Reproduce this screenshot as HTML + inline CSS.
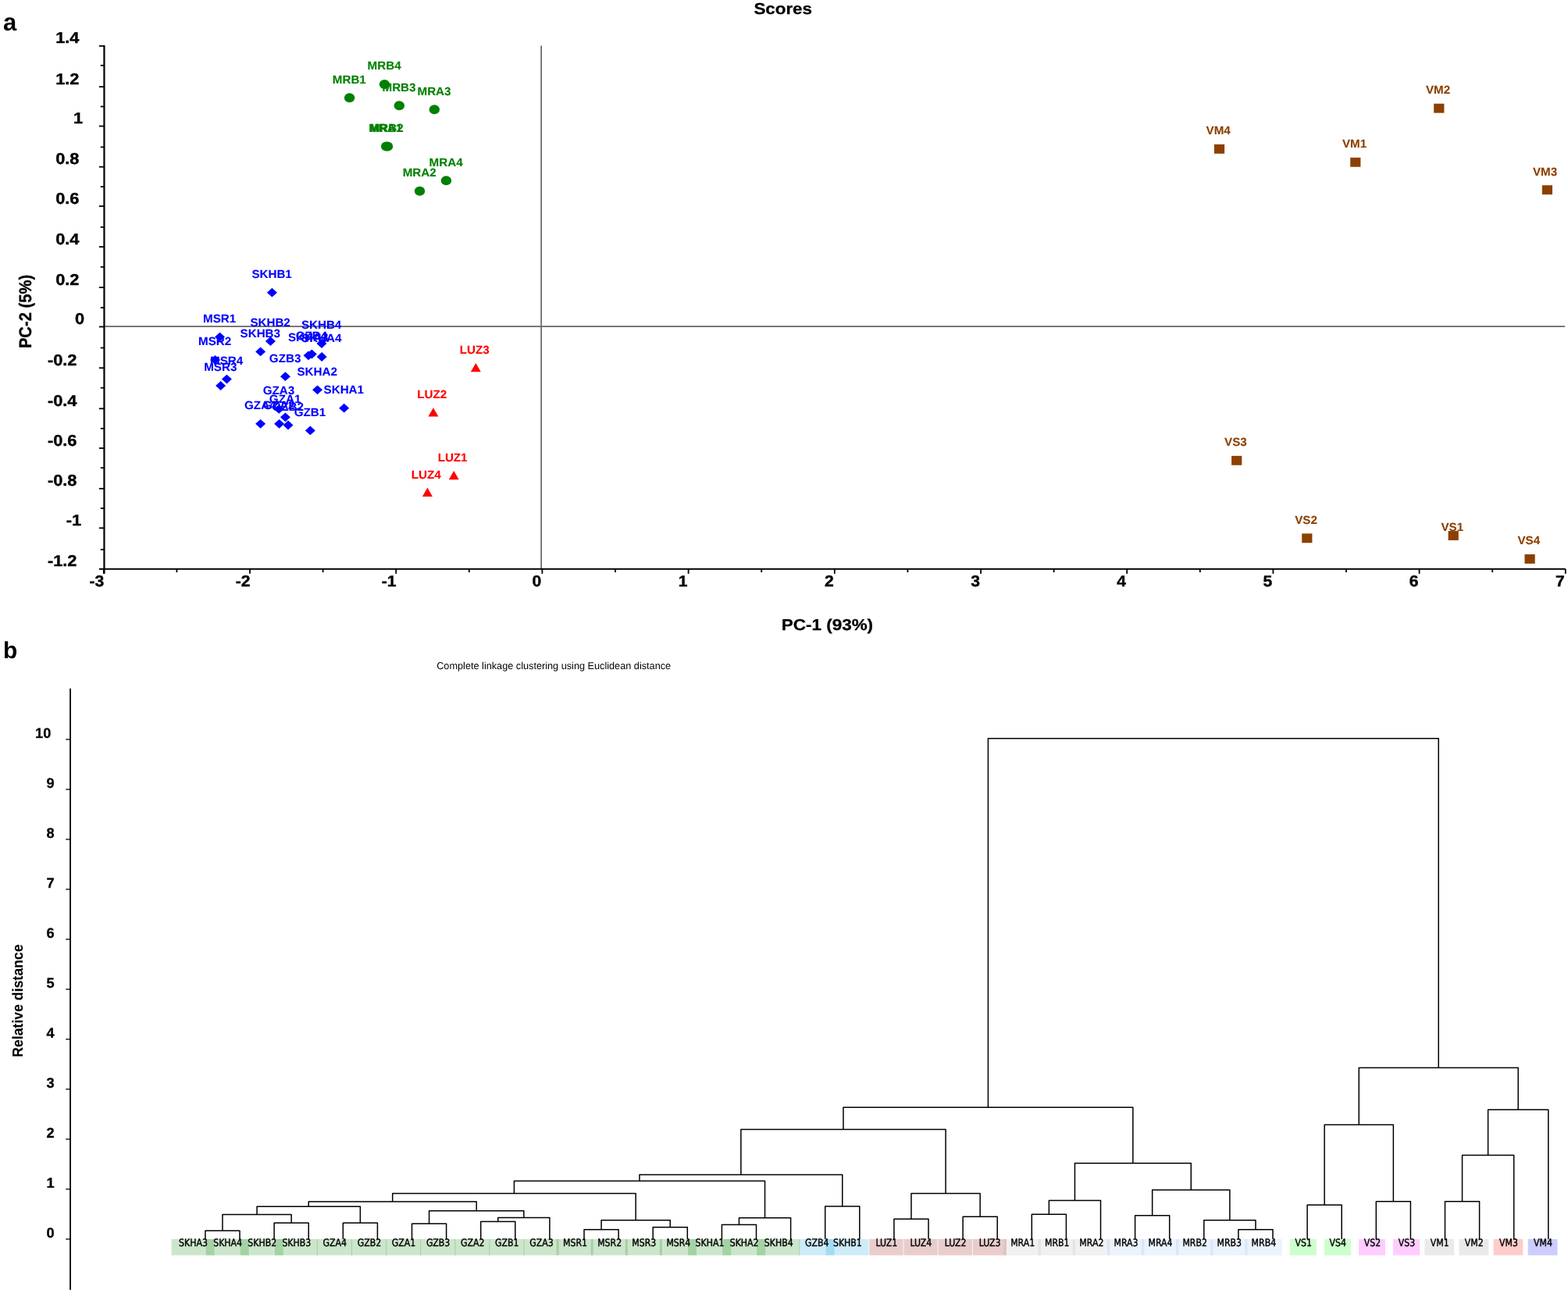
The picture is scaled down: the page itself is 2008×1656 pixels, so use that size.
<!DOCTYPE html>
<html lang="en">
<head>
<meta charset="utf-8">
<title>Scores and complete linkage clustering</title>
<style>
html,body{margin:0;padding:0;background:#fff;}
body{width:2008px;height:1656px;overflow:hidden;}
svg{display:block;font-family:"Liberation Sans", Arial, Helvetica, sans-serif;text-rendering:geometricPrecision;}
</style>
</head>
<body>
<svg width="2008" height="1656" viewBox="0 0 2008 1656">
<rect width="2008" height="1656" fill="#fff"/>
<g id="panel-a">
<line x1="693.15" y1="58.40" x2="693.15" y2="728.80" stroke="#666666" stroke-width="1.7" stroke-linecap="butt"/>
<line x1="133.45" y1="418.05" x2="2004.20" y2="418.05" stroke="#666666" stroke-width="1.7" stroke-linecap="butt"/>
<line x1="133.45" y1="57.95" x2="133.45" y2="734.80" stroke="#000" stroke-width="2.2" stroke-linecap="butt"/>
<line x1="126.85" y1="728.80" x2="2004.80" y2="728.80" stroke="#000" stroke-width="1.9" stroke-linecap="butt"/>
<line x1="126.85" y1="58.85" x2="133.45" y2="58.85" stroke="#000" stroke-width="1.8" stroke-linecap="butt"/>
<line x1="126.85" y1="111.15" x2="133.45" y2="111.15" stroke="#000" stroke-width="1.8" stroke-linecap="butt"/>
<line x1="126.85" y1="161.55" x2="133.45" y2="161.55" stroke="#000" stroke-width="1.8" stroke-linecap="butt"/>
<line x1="126.85" y1="213.70" x2="133.45" y2="213.70" stroke="#000" stroke-width="1.8" stroke-linecap="butt"/>
<line x1="126.85" y1="264.10" x2="133.45" y2="264.10" stroke="#000" stroke-width="1.8" stroke-linecap="butt"/>
<line x1="126.85" y1="316.15" x2="133.45" y2="316.15" stroke="#000" stroke-width="1.8" stroke-linecap="butt"/>
<line x1="126.85" y1="368.15" x2="133.45" y2="368.15" stroke="#000" stroke-width="1.8" stroke-linecap="butt"/>
<line x1="126.85" y1="418.50" x2="133.45" y2="418.50" stroke="#000" stroke-width="1.8" stroke-linecap="butt"/>
<line x1="126.85" y1="471.25" x2="133.45" y2="471.25" stroke="#000" stroke-width="1.8" stroke-linecap="butt"/>
<line x1="126.85" y1="523.35" x2="133.45" y2="523.35" stroke="#000" stroke-width="1.8" stroke-linecap="butt"/>
<line x1="126.85" y1="574.00" x2="133.45" y2="574.00" stroke="#000" stroke-width="1.8" stroke-linecap="butt"/>
<line x1="126.85" y1="625.80" x2="133.45" y2="625.80" stroke="#000" stroke-width="1.8" stroke-linecap="butt"/>
<line x1="126.85" y1="676.30" x2="133.45" y2="676.30" stroke="#000" stroke-width="1.8" stroke-linecap="butt"/>
<line x1="128.75" y1="83.80" x2="133.45" y2="83.80" stroke="#000" stroke-width="1.8" stroke-linecap="butt"/>
<line x1="128.75" y1="136.50" x2="133.45" y2="136.50" stroke="#000" stroke-width="1.8" stroke-linecap="butt"/>
<line x1="128.75" y1="188.40" x2="133.45" y2="188.40" stroke="#000" stroke-width="1.8" stroke-linecap="butt"/>
<line x1="128.75" y1="239.20" x2="133.45" y2="239.20" stroke="#000" stroke-width="1.8" stroke-linecap="butt"/>
<line x1="128.75" y1="290.90" x2="133.45" y2="290.90" stroke="#000" stroke-width="1.8" stroke-linecap="butt"/>
<line x1="128.75" y1="341.90" x2="133.45" y2="341.90" stroke="#000" stroke-width="1.8" stroke-linecap="butt"/>
<line x1="128.75" y1="394.10" x2="133.45" y2="394.10" stroke="#000" stroke-width="1.8" stroke-linecap="butt"/>
<line x1="128.75" y1="445.50" x2="133.45" y2="445.50" stroke="#000" stroke-width="1.8" stroke-linecap="butt"/>
<line x1="128.75" y1="496.70" x2="133.45" y2="496.70" stroke="#000" stroke-width="1.8" stroke-linecap="butt"/>
<line x1="128.75" y1="548.80" x2="133.45" y2="548.80" stroke="#000" stroke-width="1.8" stroke-linecap="butt"/>
<line x1="128.75" y1="599.20" x2="133.45" y2="599.20" stroke="#000" stroke-width="1.8" stroke-linecap="butt"/>
<line x1="128.75" y1="651.00" x2="133.45" y2="651.00" stroke="#000" stroke-width="1.8" stroke-linecap="butt"/>
<line x1="128.75" y1="703.80" x2="133.45" y2="703.80" stroke="#000" stroke-width="1.8" stroke-linecap="butt"/>
<line x1="132.80" y1="728.80" x2="132.80" y2="734.80" stroke="#000" stroke-width="1.8" stroke-linecap="butt"/>
<line x1="226.40" y1="728.80" x2="226.40" y2="733.00" stroke="#000" stroke-width="1.8" stroke-linecap="butt"/>
<line x1="320.00" y1="728.80" x2="320.00" y2="734.80" stroke="#000" stroke-width="1.8" stroke-linecap="butt"/>
<line x1="413.60" y1="728.80" x2="413.60" y2="733.00" stroke="#000" stroke-width="1.8" stroke-linecap="butt"/>
<line x1="507.20" y1="728.80" x2="507.20" y2="734.80" stroke="#000" stroke-width="1.8" stroke-linecap="butt"/>
<line x1="600.80" y1="728.80" x2="600.80" y2="733.00" stroke="#000" stroke-width="1.8" stroke-linecap="butt"/>
<line x1="694.40" y1="728.80" x2="694.40" y2="734.80" stroke="#000" stroke-width="1.8" stroke-linecap="butt"/>
<line x1="788.00" y1="728.80" x2="788.00" y2="733.00" stroke="#000" stroke-width="1.8" stroke-linecap="butt"/>
<line x1="881.60" y1="728.80" x2="881.60" y2="734.80" stroke="#000" stroke-width="1.8" stroke-linecap="butt"/>
<line x1="975.20" y1="728.80" x2="975.20" y2="733.00" stroke="#000" stroke-width="1.8" stroke-linecap="butt"/>
<line x1="1068.80" y1="728.80" x2="1068.80" y2="734.80" stroke="#000" stroke-width="1.8" stroke-linecap="butt"/>
<line x1="1162.40" y1="728.80" x2="1162.40" y2="733.00" stroke="#000" stroke-width="1.8" stroke-linecap="butt"/>
<line x1="1256.00" y1="728.80" x2="1256.00" y2="734.80" stroke="#000" stroke-width="1.8" stroke-linecap="butt"/>
<line x1="1349.60" y1="728.80" x2="1349.60" y2="733.00" stroke="#000" stroke-width="1.8" stroke-linecap="butt"/>
<line x1="1443.20" y1="728.80" x2="1443.20" y2="734.80" stroke="#000" stroke-width="1.8" stroke-linecap="butt"/>
<line x1="1536.80" y1="728.80" x2="1536.80" y2="733.00" stroke="#000" stroke-width="1.8" stroke-linecap="butt"/>
<line x1="1630.40" y1="728.80" x2="1630.40" y2="734.80" stroke="#000" stroke-width="1.8" stroke-linecap="butt"/>
<line x1="1724.00" y1="728.80" x2="1724.00" y2="733.00" stroke="#000" stroke-width="1.8" stroke-linecap="butt"/>
<line x1="1817.60" y1="728.80" x2="1817.60" y2="734.80" stroke="#000" stroke-width="1.8" stroke-linecap="butt"/>
<line x1="1911.20" y1="728.80" x2="1911.20" y2="733.00" stroke="#000" stroke-width="1.8" stroke-linecap="butt"/>
<line x1="2004.80" y1="728.80" x2="2004.80" y2="734.80" stroke="#000" stroke-width="1.8" stroke-linecap="butt"/>
<text transform="translate(101.50,55.35) scale(1.0850,1)" font-size="20.1" font-weight="bold" text-anchor="end" fill="#000" stroke="#000" stroke-width="0.4" stroke-linejoin="round">1.4</text>
<text transform="translate(101.50,107.65) scale(1.0850,1)" font-size="20.1" font-weight="bold" text-anchor="end" fill="#000" stroke="#000" stroke-width="0.4" stroke-linejoin="round">1.2</text>
<text transform="translate(106.20,158.05) scale(1.0850,1)" font-size="20.1" font-weight="bold" text-anchor="end" fill="#000" stroke="#000" stroke-width="0.4" stroke-linejoin="round">1</text>
<text transform="translate(101.50,210.20) scale(1.0850,1)" font-size="20.1" font-weight="bold" text-anchor="end" fill="#000" stroke="#000" stroke-width="0.4" stroke-linejoin="round">0.8</text>
<text transform="translate(101.50,260.60) scale(1.0850,1)" font-size="20.1" font-weight="bold" text-anchor="end" fill="#000" stroke="#000" stroke-width="0.4" stroke-linejoin="round">0.6</text>
<text transform="translate(101.50,312.65) scale(1.0850,1)" font-size="20.1" font-weight="bold" text-anchor="end" fill="#000" stroke="#000" stroke-width="0.4" stroke-linejoin="round">0.4</text>
<text transform="translate(101.50,364.65) scale(1.0850,1)" font-size="20.1" font-weight="bold" text-anchor="end" fill="#000" stroke="#000" stroke-width="0.4" stroke-linejoin="round">0.2</text>
<text transform="translate(108.20,415.00) scale(1.0850,1)" font-size="20.1" font-weight="bold" text-anchor="end" fill="#000" stroke="#000" stroke-width="0.4" stroke-linejoin="round">0</text>
<text transform="translate(98.50,467.75) scale(1.0850,1)" font-size="20.1" font-weight="bold" text-anchor="end" fill="#000" stroke="#000" stroke-width="0.4" stroke-linejoin="round">-0.2</text>
<text transform="translate(98.50,519.85) scale(1.0850,1)" font-size="20.1" font-weight="bold" text-anchor="end" fill="#000" stroke="#000" stroke-width="0.4" stroke-linejoin="round">-0.4</text>
<text transform="translate(98.50,570.50) scale(1.0850,1)" font-size="20.1" font-weight="bold" text-anchor="end" fill="#000" stroke="#000" stroke-width="0.4" stroke-linejoin="round">-0.6</text>
<text transform="translate(98.50,622.30) scale(1.0850,1)" font-size="20.1" font-weight="bold" text-anchor="end" fill="#000" stroke="#000" stroke-width="0.4" stroke-linejoin="round">-0.8</text>
<text transform="translate(104.20,672.80) scale(1.0850,1)" font-size="20.1" font-weight="bold" text-anchor="end" fill="#000" stroke="#000" stroke-width="0.4" stroke-linejoin="round">-1</text>
<text transform="translate(98.50,724.90) scale(1.0850,1)" font-size="20.1" font-weight="bold" text-anchor="end" fill="#000" stroke="#000" stroke-width="0.4" stroke-linejoin="round">-1.2</text>
<text transform="translate(133.20,750.80) scale(1.0500,1)" font-size="20.1" font-weight="bold" text-anchor="end" fill="#000" stroke="#000" stroke-width="0.4" stroke-linejoin="round">-3</text>
<text transform="translate(320.40,750.80) scale(1.0500,1)" font-size="20.1" font-weight="bold" text-anchor="end" fill="#000" stroke="#000" stroke-width="0.4" stroke-linejoin="round">-2</text>
<text transform="translate(507.60,750.80) scale(1.0500,1)" font-size="20.1" font-weight="bold" text-anchor="end" fill="#000" stroke="#000" stroke-width="0.4" stroke-linejoin="round">-1</text>
<text transform="translate(693.30,750.80) scale(1.0500,1)" font-size="20.1" font-weight="bold" text-anchor="end" fill="#000" stroke="#000" stroke-width="0.4" stroke-linejoin="round">0</text>
<text transform="translate(880.50,750.80) scale(1.0500,1)" font-size="20.1" font-weight="bold" text-anchor="end" fill="#000" stroke="#000" stroke-width="0.4" stroke-linejoin="round">1</text>
<text transform="translate(1067.70,750.80) scale(1.0500,1)" font-size="20.1" font-weight="bold" text-anchor="end" fill="#000" stroke="#000" stroke-width="0.4" stroke-linejoin="round">2</text>
<text transform="translate(1254.90,750.80) scale(1.0500,1)" font-size="20.1" font-weight="bold" text-anchor="end" fill="#000" stroke="#000" stroke-width="0.4" stroke-linejoin="round">3</text>
<text transform="translate(1442.10,750.80) scale(1.0500,1)" font-size="20.1" font-weight="bold" text-anchor="end" fill="#000" stroke="#000" stroke-width="0.4" stroke-linejoin="round">4</text>
<text transform="translate(1629.30,750.80) scale(1.0500,1)" font-size="20.1" font-weight="bold" text-anchor="end" fill="#000" stroke="#000" stroke-width="0.4" stroke-linejoin="round">5</text>
<text transform="translate(1816.50,750.80) scale(1.0500,1)" font-size="20.1" font-weight="bold" text-anchor="end" fill="#000" stroke="#000" stroke-width="0.4" stroke-linejoin="round">6</text>
<text transform="translate(2003.70,750.80) scale(1.0500,1)" font-size="20.1" font-weight="bold" text-anchor="end" fill="#000" stroke="#000" stroke-width="0.4" stroke-linejoin="round">7</text>
<text transform="translate(1002.70,18.40) scale(1.1030,1)" font-size="20.3" font-weight="bold" text-anchor="middle" fill="#000" stroke="#000" stroke-width="0.3" stroke-linejoin="round">Scores</text>
<text transform="translate(1059.40,806.90) scale(1.1130,1)" font-size="20.2" font-weight="bold" text-anchor="middle" fill="#000" stroke="#000" stroke-width="0.3" stroke-linejoin="round">PC-1 (93%)</text>
<text transform="translate(40.30,399.00) scale(1.0980,1) rotate(-90)" font-size="20.2" font-weight="bold" text-anchor="middle" fill="#000" stroke="#000" stroke-width="0.3" stroke-linejoin="round">PC-2 (5%)</text>
<text transform="translate(3.90,39.00)" font-size="31" font-weight="bold" text-anchor="start" fill="#000">a</text>
<ellipse cx="447.60" cy="125.30" rx="6.7" ry="6.0" fill="#008000"/>
<text transform="translate(447.30,106.60) scale(1.0250,1)" font-size="14.8" font-weight="bold" text-anchor="middle" fill="#008000" stroke="#008000" stroke-width="0.1" stroke-linejoin="round">MRB1</text>
<ellipse cx="492.40" cy="108.10" rx="6.7" ry="6.0" fill="#008000"/>
<text transform="translate(492.10,89.40) scale(1.0250,1)" font-size="14.8" font-weight="bold" text-anchor="middle" fill="#008000" stroke="#008000" stroke-width="0.1" stroke-linejoin="round">MRB4</text>
<ellipse cx="511.30" cy="135.20" rx="6.7" ry="6.0" fill="#008000"/>
<text transform="translate(511.00,116.50) scale(1.0250,1)" font-size="14.8" font-weight="bold" text-anchor="middle" fill="#008000" stroke="#008000" stroke-width="0.1" stroke-linejoin="round">MRB3</text>
<ellipse cx="556.30" cy="140.30" rx="6.7" ry="6.0" fill="#008000"/>
<text transform="translate(556.00,121.60) scale(1.0250,1)" font-size="14.8" font-weight="bold" text-anchor="middle" fill="#008000" stroke="#008000" stroke-width="0.1" stroke-linejoin="round">MRA3</text>
<ellipse cx="494.60" cy="187.60" rx="6.7" ry="6.0" fill="#008000"/>
<text transform="translate(493.70,168.80) scale(1.0250,1)" font-size="14.8" font-weight="bold" text-anchor="middle" fill="#008000" stroke="#008000" stroke-width="0.1" stroke-linejoin="round">MRA1</text>
<ellipse cx="496.50" cy="187.60" rx="6.7" ry="6.0" fill="#008000"/>
<text transform="translate(495.20,168.80) scale(1.0250,1)" font-size="14.8" font-weight="bold" text-anchor="middle" fill="#008000" stroke="#008000" stroke-width="0.1" stroke-linejoin="round">MRB2</text>
<ellipse cx="571.40" cy="231.30" rx="6.7" ry="6.0" fill="#008000"/>
<text transform="translate(571.10,212.60) scale(1.0250,1)" font-size="14.8" font-weight="bold" text-anchor="middle" fill="#008000" stroke="#008000" stroke-width="0.1" stroke-linejoin="round">MRA4</text>
<ellipse cx="537.50" cy="244.70" rx="6.7" ry="6.0" fill="#008000"/>
<text transform="translate(537.20,226.00) scale(1.0250,1)" font-size="14.8" font-weight="bold" text-anchor="middle" fill="#008000" stroke="#008000" stroke-width="0.1" stroke-linejoin="round">MRA2</text>
<polygon points="341.90,374.70 348.40,368.80 354.90,374.70 348.40,380.60" fill="#0000ff"/>
<text transform="translate(348.10,356.10) scale(1.0250,1)" font-size="14.8" font-weight="bold" text-anchor="middle" fill="#0000ff" stroke="#0000ff" stroke-width="0.1" stroke-linejoin="round">SKHB1</text>
<polygon points="275.00,431.60 281.50,425.70 288.00,431.60 281.50,437.50" fill="#0000ff"/>
<text transform="translate(281.20,413.00) scale(1.0250,1)" font-size="14.8" font-weight="bold" text-anchor="middle" fill="#0000ff" stroke="#0000ff" stroke-width="0.1" stroke-linejoin="round">MSR1</text>
<polygon points="339.90,437.00 346.40,431.10 352.90,437.00 346.40,442.90" fill="#0000ff"/>
<text transform="translate(346.10,418.40) scale(1.0250,1)" font-size="14.8" font-weight="bold" text-anchor="middle" fill="#0000ff" stroke="#0000ff" stroke-width="0.1" stroke-linejoin="round">SKHB2</text>
<polygon points="327.10,450.40 333.60,444.50 340.10,450.40 333.60,456.30" fill="#0000ff"/>
<text transform="translate(333.30,431.80) scale(1.0250,1)" font-size="14.8" font-weight="bold" text-anchor="middle" fill="#0000ff" stroke="#0000ff" stroke-width="0.1" stroke-linejoin="round">SKHB3</text>
<polygon points="269.00,460.90 275.50,455.00 282.00,460.90 275.50,466.80" fill="#0000ff"/>
<text transform="translate(275.20,442.30) scale(1.0250,1)" font-size="14.8" font-weight="bold" text-anchor="middle" fill="#0000ff" stroke="#0000ff" stroke-width="0.1" stroke-linejoin="round">MSR2</text>
<polygon points="405.40,440.00 411.90,434.10 418.40,440.00 411.90,445.90" fill="#0000ff"/>
<text transform="translate(411.60,421.40) scale(1.0250,1)" font-size="14.8" font-weight="bold" text-anchor="middle" fill="#0000ff" stroke="#0000ff" stroke-width="0.1" stroke-linejoin="round">SKHB4</text>
<polygon points="405.60,457.00 412.10,451.10 418.60,457.00 412.10,462.90" fill="#0000ff"/>
<text transform="translate(411.80,438.40) scale(1.0250,1)" font-size="14.8" font-weight="bold" text-anchor="middle" fill="#0000ff" stroke="#0000ff" stroke-width="0.1" stroke-linejoin="round">SKHA4</text>
<polygon points="392.80,453.50 399.30,447.60 405.80,453.50 399.30,459.40" fill="#0000ff"/>
<text transform="translate(399.00,434.90) scale(1.0250,1)" font-size="14.8" font-weight="bold" text-anchor="middle" fill="#0000ff" stroke="#0000ff" stroke-width="0.1" stroke-linejoin="round">GZB4</text>
<polygon points="388.50,455.30 395.00,449.40 401.50,455.30 395.00,461.20" fill="#0000ff"/>
<text transform="translate(394.70,436.70) scale(1.0250,1)" font-size="14.8" font-weight="bold" text-anchor="middle" fill="#0000ff" stroke="#0000ff" stroke-width="0.1" stroke-linejoin="round">SKHA3</text>
<polygon points="358.90,482.20 365.40,476.30 371.90,482.20 365.40,488.10" fill="#0000ff"/>
<text transform="translate(365.10,463.60) scale(1.0250,1)" font-size="14.8" font-weight="bold" text-anchor="middle" fill="#0000ff" stroke="#0000ff" stroke-width="0.1" stroke-linejoin="round">GZB3</text>
<polygon points="283.90,485.60 290.40,479.70 296.90,485.60 290.40,491.50" fill="#0000ff"/>
<text transform="translate(290.10,467.00) scale(1.0250,1)" font-size="14.8" font-weight="bold" text-anchor="middle" fill="#0000ff" stroke="#0000ff" stroke-width="0.1" stroke-linejoin="round">MSR4</text>
<polygon points="276.10,494.00 282.60,488.10 289.10,494.00 282.60,499.90" fill="#0000ff"/>
<text transform="translate(282.30,475.40) scale(1.0250,1)" font-size="14.8" font-weight="bold" text-anchor="middle" fill="#0000ff" stroke="#0000ff" stroke-width="0.1" stroke-linejoin="round">MSR3</text>
<polygon points="400.00,499.30 406.50,493.40 413.00,499.30 406.50,505.20" fill="#0000ff"/>
<text transform="translate(406.20,480.70) scale(1.0250,1)" font-size="14.8" font-weight="bold" text-anchor="middle" fill="#0000ff" stroke="#0000ff" stroke-width="0.1" stroke-linejoin="round">SKHA2</text>
<polygon points="434.10,522.70 440.60,516.80 447.10,522.70 440.60,528.60" fill="#0000ff"/>
<text transform="translate(440.30,504.10) scale(1.0250,1)" font-size="14.8" font-weight="bold" text-anchor="middle" fill="#0000ff" stroke="#0000ff" stroke-width="0.1" stroke-linejoin="round">SKHA1</text>
<polygon points="350.70,523.90 357.20,518.00 363.70,523.90 357.20,529.80" fill="#0000ff"/>
<text transform="translate(356.90,505.30) scale(1.0250,1)" font-size="14.8" font-weight="bold" text-anchor="middle" fill="#0000ff" stroke="#0000ff" stroke-width="0.1" stroke-linejoin="round">GZA3</text>
<polygon points="358.90,534.30 365.40,528.40 371.90,534.30 365.40,540.20" fill="#0000ff"/>
<text transform="translate(365.10,515.70) scale(1.0250,1)" font-size="14.8" font-weight="bold" text-anchor="middle" fill="#0000ff" stroke="#0000ff" stroke-width="0.1" stroke-linejoin="round">GZA1</text>
<polygon points="327.10,542.80 333.60,536.90 340.10,542.80 333.60,548.70" fill="#0000ff"/>
<text transform="translate(333.30,524.20) scale(1.0250,1)" font-size="14.8" font-weight="bold" text-anchor="middle" fill="#0000ff" stroke="#0000ff" stroke-width="0.1" stroke-linejoin="round">GZA4</text>
<polygon points="351.10,542.80 357.60,536.90 364.10,542.80 357.60,548.70" fill="#0000ff"/>
<text transform="translate(357.30,524.20) scale(1.0250,1)" font-size="14.8" font-weight="bold" text-anchor="middle" fill="#0000ff" stroke="#0000ff" stroke-width="0.1" stroke-linejoin="round">GZA2</text>
<polygon points="362.50,544.50 369.00,538.60 375.50,544.50 369.00,550.40" fill="#0000ff"/>
<text transform="translate(368.70,525.90) scale(1.0250,1)" font-size="14.8" font-weight="bold" text-anchor="middle" fill="#0000ff" stroke="#0000ff" stroke-width="0.1" stroke-linejoin="round">GZB2</text>
<polygon points="390.80,551.40 397.30,545.50 403.80,551.40 397.30,557.30" fill="#0000ff"/>
<text transform="translate(397.00,532.80) scale(1.0250,1)" font-size="14.8" font-weight="bold" text-anchor="middle" fill="#0000ff" stroke="#0000ff" stroke-width="0.1" stroke-linejoin="round">GZB1</text>
<polygon points="602.80,476.20 609.30,464.90 615.80,476.20" fill="#ff0000"/>
<text transform="translate(607.70,452.80) scale(1.0250,1)" font-size="14.8" font-weight="bold" text-anchor="middle" fill="#ff0000" stroke="#ff0000" stroke-width="0.1" stroke-linejoin="round">LUZ3</text>
<polygon points="548.40,533.50 554.90,522.20 561.40,533.50" fill="#ff0000"/>
<text transform="translate(553.30,510.10) scale(1.0250,1)" font-size="14.8" font-weight="bold" text-anchor="middle" fill="#ff0000" stroke="#ff0000" stroke-width="0.1" stroke-linejoin="round">LUZ2</text>
<polygon points="574.70,614.20 581.20,602.90 587.70,614.20" fill="#ff0000"/>
<text transform="translate(579.60,590.80) scale(1.0250,1)" font-size="14.8" font-weight="bold" text-anchor="middle" fill="#ff0000" stroke="#ff0000" stroke-width="0.1" stroke-linejoin="round">LUZ1</text>
<polygon points="540.90,635.90 547.40,624.60 553.90,635.90" fill="#ff0000"/>
<text transform="translate(545.80,612.50) scale(1.0250,1)" font-size="14.8" font-weight="bold" text-anchor="middle" fill="#ff0000" stroke="#ff0000" stroke-width="0.1" stroke-linejoin="round">LUZ4</text>
<rect x="1554.90" y="184.85" width="13.20" height="11.90" fill="#8b4000"/>
<text transform="translate(1560.20,172.20) scale(1.0250,1)" font-size="14.8" font-weight="bold" text-anchor="middle" fill="#8b4000" stroke="#8b4000" stroke-width="0.1" stroke-linejoin="round">VM4</text>
<rect x="1729.20" y="201.85" width="13.20" height="11.90" fill="#8b4000"/>
<text transform="translate(1734.50,189.20) scale(1.0250,1)" font-size="14.8" font-weight="bold" text-anchor="middle" fill="#8b4000" stroke="#8b4000" stroke-width="0.1" stroke-linejoin="round">VM1</text>
<rect x="1836.20" y="132.75" width="13.20" height="11.90" fill="#8b4000"/>
<text transform="translate(1841.50,120.10) scale(1.0250,1)" font-size="14.8" font-weight="bold" text-anchor="middle" fill="#8b4000" stroke="#8b4000" stroke-width="0.1" stroke-linejoin="round">VM2</text>
<rect x="1974.80" y="237.25" width="13.20" height="11.90" fill="#8b4000"/>
<text transform="translate(1978.60,224.60) scale(1.0250,1)" font-size="14.8" font-weight="bold" text-anchor="middle" fill="#8b4000" stroke="#8b4000" stroke-width="0.1" stroke-linejoin="round">VM3</text>
<rect x="1577.10" y="583.85" width="13.20" height="11.90" fill="#8b4000"/>
<text transform="translate(1582.40,571.20) scale(1.0250,1)" font-size="14.8" font-weight="bold" text-anchor="middle" fill="#8b4000" stroke="#8b4000" stroke-width="0.1" stroke-linejoin="round">VS3</text>
<rect x="1667.20" y="683.35" width="13.20" height="11.90" fill="#8b4000"/>
<text transform="translate(1672.50,670.70) scale(1.0250,1)" font-size="14.8" font-weight="bold" text-anchor="middle" fill="#8b4000" stroke="#8b4000" stroke-width="0.1" stroke-linejoin="round">VS2</text>
<rect x="1854.60" y="680.05" width="13.20" height="11.90" fill="#8b4000"/>
<text transform="translate(1859.80,680.40) scale(1.0250,1)" font-size="14.8" font-weight="bold" text-anchor="middle" fill="#8b4000" stroke="#8b4000" stroke-width="0.1" stroke-linejoin="round">VS1</text>
<rect x="1952.50" y="709.95" width="13.20" height="11.90" fill="#8b4000"/>
<text transform="translate(1957.80,697.30) scale(1.0250,1)" font-size="14.8" font-weight="bold" text-anchor="middle" fill="#8b4000" stroke="#8b4000" stroke-width="0.1" stroke-linejoin="round">VS4</text>
</g>
<g id="panel-b">
<text transform="translate(4.00,842.60)" font-size="30" font-weight="bold" text-anchor="start" fill="#000">b</text>
<text transform="translate(559.20,856.80) scale(0.9920,1)" font-size="12.8" font-weight="normal" text-anchor="start" fill="#000">Complete linkage clustering using Euclidean distance</text>
<line x1="90.05" y1="881.70" x2="90.05" y2="1652.00" stroke="#000" stroke-width="1.8" stroke-linecap="butt"/>
<line x1="84.25" y1="1587.00" x2="90.05" y2="1587.00" stroke="#000" stroke-width="1.3" stroke-linecap="butt"/>
<text transform="translate(69.60,1584.50) scale(1.0100,1)" font-size="18.0" font-weight="bold" text-anchor="end" fill="#000" stroke="#000" stroke-width="0.3" stroke-linejoin="round">0</text>
<line x1="84.25" y1="1523.00" x2="90.05" y2="1523.00" stroke="#000" stroke-width="1.3" stroke-linecap="butt"/>
<text transform="translate(69.60,1520.50) scale(1.0100,1)" font-size="18.0" font-weight="bold" text-anchor="end" fill="#000" stroke="#000" stroke-width="0.3" stroke-linejoin="round">1</text>
<line x1="84.25" y1="1459.00" x2="90.05" y2="1459.00" stroke="#000" stroke-width="1.3" stroke-linecap="butt"/>
<text transform="translate(69.60,1456.50) scale(1.0100,1)" font-size="18.0" font-weight="bold" text-anchor="end" fill="#000" stroke="#000" stroke-width="0.3" stroke-linejoin="round">2</text>
<line x1="84.25" y1="1395.00" x2="90.05" y2="1395.00" stroke="#000" stroke-width="1.3" stroke-linecap="butt"/>
<text transform="translate(69.60,1392.50) scale(1.0100,1)" font-size="18.0" font-weight="bold" text-anchor="end" fill="#000" stroke="#000" stroke-width="0.3" stroke-linejoin="round">3</text>
<line x1="84.25" y1="1331.00" x2="90.05" y2="1331.00" stroke="#000" stroke-width="1.3" stroke-linecap="butt"/>
<text transform="translate(69.60,1328.50) scale(1.0100,1)" font-size="18.0" font-weight="bold" text-anchor="end" fill="#000" stroke="#000" stroke-width="0.3" stroke-linejoin="round">4</text>
<line x1="84.25" y1="1267.00" x2="90.05" y2="1267.00" stroke="#000" stroke-width="1.3" stroke-linecap="butt"/>
<text transform="translate(69.60,1264.50) scale(1.0100,1)" font-size="18.0" font-weight="bold" text-anchor="end" fill="#000" stroke="#000" stroke-width="0.3" stroke-linejoin="round">5</text>
<line x1="84.25" y1="1203.00" x2="90.05" y2="1203.00" stroke="#000" stroke-width="1.3" stroke-linecap="butt"/>
<text transform="translate(69.60,1200.50) scale(1.0100,1)" font-size="18.0" font-weight="bold" text-anchor="end" fill="#000" stroke="#000" stroke-width="0.3" stroke-linejoin="round">6</text>
<line x1="84.25" y1="1139.00" x2="90.05" y2="1139.00" stroke="#000" stroke-width="1.3" stroke-linecap="butt"/>
<text transform="translate(69.60,1136.50) scale(1.0100,1)" font-size="18.0" font-weight="bold" text-anchor="end" fill="#000" stroke="#000" stroke-width="0.3" stroke-linejoin="round">7</text>
<line x1="84.25" y1="1075.00" x2="90.05" y2="1075.00" stroke="#000" stroke-width="1.3" stroke-linecap="butt"/>
<text transform="translate(69.60,1072.50) scale(1.0100,1)" font-size="18.0" font-weight="bold" text-anchor="end" fill="#000" stroke="#000" stroke-width="0.3" stroke-linejoin="round">8</text>
<line x1="84.25" y1="1011.00" x2="90.05" y2="1011.00" stroke="#000" stroke-width="1.3" stroke-linecap="butt"/>
<text transform="translate(69.60,1008.50) scale(1.0100,1)" font-size="18.0" font-weight="bold" text-anchor="end" fill="#000" stroke="#000" stroke-width="0.3" stroke-linejoin="round">9</text>
<line x1="84.25" y1="947.00" x2="90.05" y2="947.00" stroke="#000" stroke-width="1.3" stroke-linecap="butt"/>
<text transform="translate(65.30,944.50) scale(1.0100,1)" font-size="18.0" font-weight="bold" text-anchor="end" fill="#000" stroke="#000" stroke-width="0.3" stroke-linejoin="round">10</text>
<text transform="translate(28.80,1281.80) scale(1.0600,1) rotate(-90)" font-size="17.7" font-weight="bold" text-anchor="middle" fill="#000" stroke="#000" stroke-width="0.1" stroke-linejoin="round">Relative distance</text>
<rect x="219.60" y="1587.0" width="55.00" height="20.70" fill="rgba(0,128,0,0.2)"/>
<rect x="263.70" y="1587.0" width="55.00" height="20.70" fill="rgba(0,128,0,0.2)"/>
<rect x="307.80" y="1587.0" width="55.00" height="20.70" fill="rgba(0,128,0,0.2)"/>
<rect x="351.90" y="1587.0" width="55.00" height="20.70" fill="rgba(0,128,0,0.2)"/>
<rect x="405.80" y="1587.0" width="45.20" height="20.70" fill="rgba(0,128,0,0.2)"/>
<rect x="449.90" y="1587.0" width="45.20" height="20.70" fill="rgba(0,128,0,0.2)"/>
<rect x="494.00" y="1587.0" width="45.20" height="20.70" fill="rgba(0,128,0,0.2)"/>
<rect x="538.10" y="1587.0" width="45.20" height="20.70" fill="rgba(0,128,0,0.2)"/>
<rect x="582.20" y="1587.0" width="45.20" height="20.70" fill="rgba(0,128,0,0.2)"/>
<rect x="626.30" y="1587.0" width="45.20" height="20.70" fill="rgba(0,128,0,0.2)"/>
<rect x="670.40" y="1587.0" width="45.20" height="20.70" fill="rgba(0,128,0,0.2)"/>
<rect x="712.60" y="1587.0" width="47.10" height="20.70" fill="rgba(0,128,0,0.2)"/>
<rect x="756.70" y="1587.0" width="47.10" height="20.70" fill="rgba(0,128,0,0.2)"/>
<rect x="800.80" y="1587.0" width="47.10" height="20.70" fill="rgba(0,128,0,0.2)"/>
<rect x="844.90" y="1587.0" width="47.10" height="20.70" fill="rgba(0,128,0,0.2)"/>
<rect x="881.10" y="1587.0" width="55.00" height="20.70" fill="rgba(0,128,0,0.2)"/>
<rect x="925.20" y="1587.0" width="55.00" height="20.70" fill="rgba(0,128,0,0.2)"/>
<rect x="969.30" y="1587.0" width="55.00" height="20.70" fill="rgba(0,128,0,0.2)"/>
<rect x="1023.20" y="1587.0" width="45.20" height="20.70" fill="rgba(0,160,220,0.2)"/>
<rect x="1057.50" y="1587.0" width="55.00" height="20.70" fill="rgba(0,160,220,0.2)"/>
<rect x="1113.30" y="1587.0" width="43.30" height="20.70" fill="rgba(165,42,42,0.24)"/>
<rect x="1157.40" y="1587.0" width="43.30" height="20.70" fill="rgba(165,42,42,0.24)"/>
<rect x="1201.50" y="1587.0" width="43.30" height="20.70" fill="rgba(165,42,42,0.24)"/>
<rect x="1245.60" y="1587.0" width="43.30" height="20.70" fill="rgba(165,42,42,0.24)"/>
<rect x="1285.50" y="1587.0" width="47.50" height="20.70" fill="rgba(128,128,128,0.11)"/>
<rect x="1329.60" y="1587.0" width="47.50" height="20.70" fill="rgba(128,128,128,0.11)"/>
<rect x="1373.70" y="1587.0" width="47.50" height="20.70" fill="rgba(128,128,128,0.11)"/>
<rect x="1417.80" y="1587.0" width="47.50" height="20.70" fill="rgba(100,160,240,0.13)"/>
<rect x="1461.90" y="1587.0" width="47.50" height="20.70" fill="rgba(100,160,240,0.13)"/>
<rect x="1506.00" y="1587.0" width="47.50" height="20.70" fill="rgba(100,160,240,0.13)"/>
<rect x="1550.10" y="1587.0" width="47.50" height="20.70" fill="rgba(100,160,240,0.13)"/>
<rect x="1594.20" y="1587.0" width="47.50" height="20.70" fill="rgba(100,160,240,0.13)"/>
<rect x="1651.80" y="1587.0" width="34.00" height="20.70" fill="rgba(0,255,0,0.2)"/>
<rect x="1695.90" y="1587.0" width="34.00" height="20.70" fill="rgba(0,255,0,0.2)"/>
<rect x="1740.00" y="1587.0" width="34.00" height="20.70" fill="rgba(255,0,255,0.2)"/>
<rect x="1784.10" y="1587.0" width="34.00" height="20.70" fill="rgba(255,0,255,0.2)"/>
<rect x="1824.40" y="1587.0" width="37.80" height="20.70" fill="rgba(128,128,128,0.17)"/>
<rect x="1868.50" y="1587.0" width="37.80" height="20.70" fill="rgba(128,128,128,0.17)"/>
<rect x="1912.60" y="1587.0" width="37.80" height="20.70" fill="rgba(255,0,0,0.2)"/>
<rect x="1956.70" y="1587.0" width="37.80" height="20.70" fill="rgba(0,0,255,0.2)"/>
<path d="M262.90,1587.00V1576.20H307.00V1587.00M351.10,1587.00V1566.20H395.20V1587.00M284.95,1576.20V1555.40H373.15V1566.20M439.30,1587.00V1566.20H483.40V1587.00M329.05,1555.40V1545.30H461.35V1566.20M527.50,1587.00V1567.30H571.60V1587.00M615.70,1587.00V1564.40H659.80V1587.00M637.75,1564.40V1559.50H703.90V1587.00M549.55,1567.30V1550.80H670.83V1559.50M395.20,1545.30V1538.90H610.19V1550.80M748.00,1587.00V1574.70H792.10V1587.00M836.20,1587.00V1571.70H880.30V1587.00M770.05,1574.70V1562.80H858.25V1571.70M502.69,1538.90V1528.60H814.15V1562.80M924.40,1587.00V1568.40H968.50V1587.00M946.45,1568.40V1559.80H1012.60V1587.00M658.42,1528.60V1512.40H979.53V1559.80M1056.70,1587.00V1545.00H1100.80V1587.00M818.97,1512.40V1504.50H1078.75V1545.00M1144.90,1587.00V1561.30H1189.00V1587.00M1233.10,1587.00V1558.30H1277.20V1587.00M1166.95,1561.30V1528.50H1255.15V1558.30M948.86,1504.50V1446.60H1211.05V1528.50M1321.30,1587.00V1555.30H1365.40V1587.00M1343.35,1555.30V1537.40H1409.50V1587.00M1453.60,1587.00V1556.80H1497.70V1587.00M1585.90,1587.00V1574.70H1630.00V1587.00M1541.80,1587.00V1562.80H1607.95V1574.70M1475.65,1556.80V1524.10H1574.88V1562.80M1376.43,1537.40V1489.70H1525.26V1524.10M1079.96,1446.60V1418.20H1450.84V1489.70M1674.10,1587.00V1543.20H1718.20V1587.00M1762.30,1587.00V1538.80H1806.40V1587.00M1696.15,1543.20V1440.60H1784.35V1538.80M1850.50,1587.00V1538.80H1894.60V1587.00M1872.55,1538.80V1479.40H1938.70V1587.00M1905.62,1479.40V1421.30H1982.80V1587.00M1740.25,1440.60V1367.40H1944.21V1421.30M1265.40,1418.20V945.70H1842.23V1367.40" fill="none" stroke="#000" stroke-width="1.5" stroke-linejoin="round" stroke-linecap="butt"/>
<text transform="translate(247.50,1595.90) scale(0.9350,1)" font-size="13.0" font-weight="normal" text-anchor="middle" fill="#000" font-family='"DejaVu Sans Condensed", "DejaVu Sans", "Liberation Sans", sans-serif' stroke="#000" stroke-width="0.4" stroke-linejoin="round">SKHA3</text>
<text transform="translate(291.60,1595.90) scale(0.9350,1)" font-size="13.0" font-weight="normal" text-anchor="middle" fill="#000" font-family='"DejaVu Sans Condensed", "DejaVu Sans", "Liberation Sans", sans-serif' stroke="#000" stroke-width="0.4" stroke-linejoin="round">SKHA4</text>
<text transform="translate(335.70,1595.90) scale(0.9350,1)" font-size="13.0" font-weight="normal" text-anchor="middle" fill="#000" font-family='"DejaVu Sans Condensed", "DejaVu Sans", "Liberation Sans", sans-serif' stroke="#000" stroke-width="0.4" stroke-linejoin="round">SKHB2</text>
<text transform="translate(379.80,1595.90) scale(0.9350,1)" font-size="13.0" font-weight="normal" text-anchor="middle" fill="#000" font-family='"DejaVu Sans Condensed", "DejaVu Sans", "Liberation Sans", sans-serif' stroke="#000" stroke-width="0.4" stroke-linejoin="round">SKHB3</text>
<text transform="translate(428.80,1595.90) scale(0.9350,1)" font-size="13.0" font-weight="normal" text-anchor="middle" fill="#000" font-family='"DejaVu Sans Condensed", "DejaVu Sans", "Liberation Sans", sans-serif' stroke="#000" stroke-width="0.4" stroke-linejoin="round">GZA4</text>
<text transform="translate(472.90,1595.90) scale(0.9350,1)" font-size="13.0" font-weight="normal" text-anchor="middle" fill="#000" font-family='"DejaVu Sans Condensed", "DejaVu Sans", "Liberation Sans", sans-serif' stroke="#000" stroke-width="0.4" stroke-linejoin="round">GZB2</text>
<text transform="translate(517.00,1595.90) scale(0.9350,1)" font-size="13.0" font-weight="normal" text-anchor="middle" fill="#000" font-family='"DejaVu Sans Condensed", "DejaVu Sans", "Liberation Sans", sans-serif' stroke="#000" stroke-width="0.4" stroke-linejoin="round">GZA1</text>
<text transform="translate(561.10,1595.90) scale(0.9350,1)" font-size="13.0" font-weight="normal" text-anchor="middle" fill="#000" font-family='"DejaVu Sans Condensed", "DejaVu Sans", "Liberation Sans", sans-serif' stroke="#000" stroke-width="0.4" stroke-linejoin="round">GZB3</text>
<text transform="translate(605.20,1595.90) scale(0.9350,1)" font-size="13.0" font-weight="normal" text-anchor="middle" fill="#000" font-family='"DejaVu Sans Condensed", "DejaVu Sans", "Liberation Sans", sans-serif' stroke="#000" stroke-width="0.4" stroke-linejoin="round">GZA2</text>
<text transform="translate(649.30,1595.90) scale(0.9350,1)" font-size="13.0" font-weight="normal" text-anchor="middle" fill="#000" font-family='"DejaVu Sans Condensed", "DejaVu Sans", "Liberation Sans", sans-serif' stroke="#000" stroke-width="0.4" stroke-linejoin="round">GZB1</text>
<text transform="translate(693.40,1595.90) scale(0.9350,1)" font-size="13.0" font-weight="normal" text-anchor="middle" fill="#000" font-family='"DejaVu Sans Condensed", "DejaVu Sans", "Liberation Sans", sans-serif' stroke="#000" stroke-width="0.4" stroke-linejoin="round">GZA3</text>
<text transform="translate(736.55,1595.90) scale(0.9350,1)" font-size="13.0" font-weight="normal" text-anchor="middle" fill="#000" font-family='"DejaVu Sans Condensed", "DejaVu Sans", "Liberation Sans", sans-serif' stroke="#000" stroke-width="0.4" stroke-linejoin="round">MSR1</text>
<text transform="translate(780.65,1595.90) scale(0.9350,1)" font-size="13.0" font-weight="normal" text-anchor="middle" fill="#000" font-family='"DejaVu Sans Condensed", "DejaVu Sans", "Liberation Sans", sans-serif' stroke="#000" stroke-width="0.4" stroke-linejoin="round">MSR2</text>
<text transform="translate(824.75,1595.90) scale(0.9350,1)" font-size="13.0" font-weight="normal" text-anchor="middle" fill="#000" font-family='"DejaVu Sans Condensed", "DejaVu Sans", "Liberation Sans", sans-serif' stroke="#000" stroke-width="0.4" stroke-linejoin="round">MSR3</text>
<text transform="translate(868.85,1595.90) scale(0.9350,1)" font-size="13.0" font-weight="normal" text-anchor="middle" fill="#000" font-family='"DejaVu Sans Condensed", "DejaVu Sans", "Liberation Sans", sans-serif' stroke="#000" stroke-width="0.4" stroke-linejoin="round">MSR4</text>
<text transform="translate(909.00,1595.90) scale(0.9350,1)" font-size="13.0" font-weight="normal" text-anchor="middle" fill="#000" font-family='"DejaVu Sans Condensed", "DejaVu Sans", "Liberation Sans", sans-serif' stroke="#000" stroke-width="0.4" stroke-linejoin="round">SKHA1</text>
<text transform="translate(953.10,1595.90) scale(0.9350,1)" font-size="13.0" font-weight="normal" text-anchor="middle" fill="#000" font-family='"DejaVu Sans Condensed", "DejaVu Sans", "Liberation Sans", sans-serif' stroke="#000" stroke-width="0.4" stroke-linejoin="round">SKHA2</text>
<text transform="translate(997.20,1595.90) scale(0.9350,1)" font-size="13.0" font-weight="normal" text-anchor="middle" fill="#000" font-family='"DejaVu Sans Condensed", "DejaVu Sans", "Liberation Sans", sans-serif' stroke="#000" stroke-width="0.4" stroke-linejoin="round">SKHB4</text>
<text transform="translate(1046.20,1595.90) scale(0.9350,1)" font-size="13.0" font-weight="normal" text-anchor="middle" fill="#000" font-family='"DejaVu Sans Condensed", "DejaVu Sans", "Liberation Sans", sans-serif' stroke="#000" stroke-width="0.4" stroke-linejoin="round">GZB4</text>
<text transform="translate(1085.40,1595.90) scale(0.9350,1)" font-size="13.0" font-weight="normal" text-anchor="middle" fill="#000" font-family='"DejaVu Sans Condensed", "DejaVu Sans", "Liberation Sans", sans-serif' stroke="#000" stroke-width="0.4" stroke-linejoin="round">SKHB1</text>
<text transform="translate(1135.35,1595.90) scale(0.9350,1)" font-size="13.0" font-weight="normal" text-anchor="middle" fill="#000" font-family='"DejaVu Sans Condensed", "DejaVu Sans", "Liberation Sans", sans-serif' stroke="#000" stroke-width="0.4" stroke-linejoin="round">LUZ1</text>
<text transform="translate(1179.45,1595.90) scale(0.9350,1)" font-size="13.0" font-weight="normal" text-anchor="middle" fill="#000" font-family='"DejaVu Sans Condensed", "DejaVu Sans", "Liberation Sans", sans-serif' stroke="#000" stroke-width="0.4" stroke-linejoin="round">LUZ4</text>
<text transform="translate(1223.55,1595.90) scale(0.9350,1)" font-size="13.0" font-weight="normal" text-anchor="middle" fill="#000" font-family='"DejaVu Sans Condensed", "DejaVu Sans", "Liberation Sans", sans-serif' stroke="#000" stroke-width="0.4" stroke-linejoin="round">LUZ2</text>
<text transform="translate(1267.65,1595.90) scale(0.9350,1)" font-size="13.0" font-weight="normal" text-anchor="middle" fill="#000" font-family='"DejaVu Sans Condensed", "DejaVu Sans", "Liberation Sans", sans-serif' stroke="#000" stroke-width="0.4" stroke-linejoin="round">LUZ3</text>
<text transform="translate(1309.65,1595.90) scale(0.9350,1)" font-size="13.0" font-weight="normal" text-anchor="middle" fill="#000" font-family='"DejaVu Sans Condensed", "DejaVu Sans", "Liberation Sans", sans-serif' stroke="#000" stroke-width="0.4" stroke-linejoin="round">MRA1</text>
<text transform="translate(1353.75,1595.90) scale(0.9350,1)" font-size="13.0" font-weight="normal" text-anchor="middle" fill="#000" font-family='"DejaVu Sans Condensed", "DejaVu Sans", "Liberation Sans", sans-serif' stroke="#000" stroke-width="0.4" stroke-linejoin="round">MRB1</text>
<text transform="translate(1397.85,1595.90) scale(0.9350,1)" font-size="13.0" font-weight="normal" text-anchor="middle" fill="#000" font-family='"DejaVu Sans Condensed", "DejaVu Sans", "Liberation Sans", sans-serif' stroke="#000" stroke-width="0.4" stroke-linejoin="round">MRA2</text>
<text transform="translate(1441.95,1595.90) scale(0.9350,1)" font-size="13.0" font-weight="normal" text-anchor="middle" fill="#000" font-family='"DejaVu Sans Condensed", "DejaVu Sans", "Liberation Sans", sans-serif' stroke="#000" stroke-width="0.4" stroke-linejoin="round">MRA3</text>
<text transform="translate(1486.05,1595.90) scale(0.9350,1)" font-size="13.0" font-weight="normal" text-anchor="middle" fill="#000" font-family='"DejaVu Sans Condensed", "DejaVu Sans", "Liberation Sans", sans-serif' stroke="#000" stroke-width="0.4" stroke-linejoin="round">MRA4</text>
<text transform="translate(1530.15,1595.90) scale(0.9350,1)" font-size="13.0" font-weight="normal" text-anchor="middle" fill="#000" font-family='"DejaVu Sans Condensed", "DejaVu Sans", "Liberation Sans", sans-serif' stroke="#000" stroke-width="0.4" stroke-linejoin="round">MRB2</text>
<text transform="translate(1574.25,1595.90) scale(0.9350,1)" font-size="13.0" font-weight="normal" text-anchor="middle" fill="#000" font-family='"DejaVu Sans Condensed", "DejaVu Sans", "Liberation Sans", sans-serif' stroke="#000" stroke-width="0.4" stroke-linejoin="round">MRB3</text>
<text transform="translate(1618.35,1595.90) scale(0.9350,1)" font-size="13.0" font-weight="normal" text-anchor="middle" fill="#000" font-family='"DejaVu Sans Condensed", "DejaVu Sans", "Liberation Sans", sans-serif' stroke="#000" stroke-width="0.4" stroke-linejoin="round">MRB4</text>
<text transform="translate(1669.20,1595.90) scale(0.9350,1)" font-size="13.0" font-weight="normal" text-anchor="middle" fill="#000" font-family='"DejaVu Sans Condensed", "DejaVu Sans", "Liberation Sans", sans-serif' stroke="#000" stroke-width="0.4" stroke-linejoin="round">VS1</text>
<text transform="translate(1713.30,1595.90) scale(0.9350,1)" font-size="13.0" font-weight="normal" text-anchor="middle" fill="#000" font-family='"DejaVu Sans Condensed", "DejaVu Sans", "Liberation Sans", sans-serif' stroke="#000" stroke-width="0.4" stroke-linejoin="round">VS4</text>
<text transform="translate(1757.40,1595.90) scale(0.9350,1)" font-size="13.0" font-weight="normal" text-anchor="middle" fill="#000" font-family='"DejaVu Sans Condensed", "DejaVu Sans", "Liberation Sans", sans-serif' stroke="#000" stroke-width="0.4" stroke-linejoin="round">VS2</text>
<text transform="translate(1801.50,1595.90) scale(0.9350,1)" font-size="13.0" font-weight="normal" text-anchor="middle" fill="#000" font-family='"DejaVu Sans Condensed", "DejaVu Sans", "Liberation Sans", sans-serif' stroke="#000" stroke-width="0.4" stroke-linejoin="round">VS3</text>
<text transform="translate(1843.70,1595.90) scale(0.9350,1)" font-size="13.0" font-weight="normal" text-anchor="middle" fill="#000" font-family='"DejaVu Sans Condensed", "DejaVu Sans", "Liberation Sans", sans-serif' stroke="#000" stroke-width="0.4" stroke-linejoin="round">VM1</text>
<text transform="translate(1887.80,1595.90) scale(0.9350,1)" font-size="13.0" font-weight="normal" text-anchor="middle" fill="#000" font-family='"DejaVu Sans Condensed", "DejaVu Sans", "Liberation Sans", sans-serif' stroke="#000" stroke-width="0.4" stroke-linejoin="round">VM2</text>
<text transform="translate(1931.90,1595.90) scale(0.9350,1)" font-size="13.0" font-weight="normal" text-anchor="middle" fill="#000" font-family='"DejaVu Sans Condensed", "DejaVu Sans", "Liberation Sans", sans-serif' stroke="#000" stroke-width="0.4" stroke-linejoin="round">VM3</text>
<text transform="translate(1976.00,1595.90) scale(0.9350,1)" font-size="13.0" font-weight="normal" text-anchor="middle" fill="#000" font-family='"DejaVu Sans Condensed", "DejaVu Sans", "Liberation Sans", sans-serif' stroke="#000" stroke-width="0.4" stroke-linejoin="round">VM4</text>
</g>
</svg>
</body>
</html>
